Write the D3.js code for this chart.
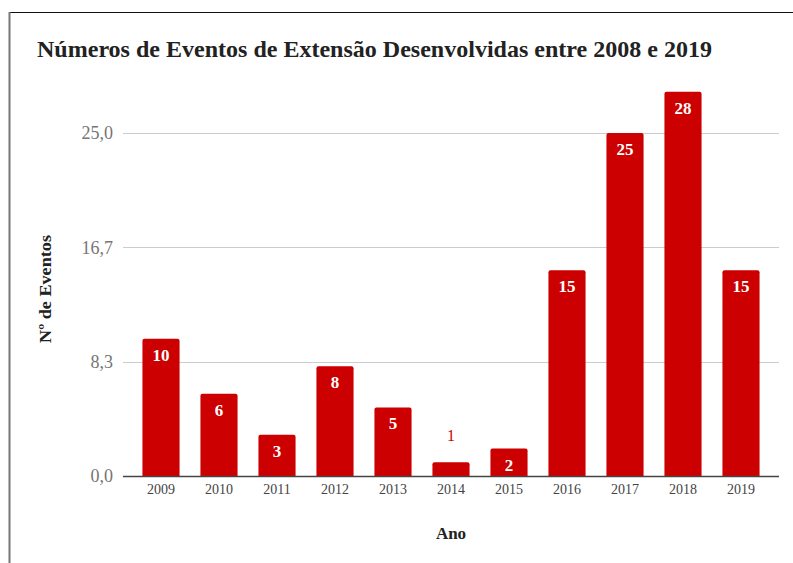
<!DOCTYPE html>
<html>
<head>
<meta charset="utf-8">
<script src="https://cdn.jsdelivr.net/npm/d3@7"></script>
<style>
  body { margin: 0; background: #fff; }
  svg { display: block; font-family: "Liberation Serif", "Times New Roman", serif; }
</style>
</head>
<body>
<svg class="canvas" width="793" height="563"></svg>
<script>
var anos = ["2009","2010","2011","2012","2013","2014","2015","2016","2017","2018","2019"];
var eventos = [10, 6, 3, 8, 5, 1, 2, 15, 25, 28, 15];
var ticksY = [0, 25/3, 50/3, 25];
var titulo = "Números de Eventos de Extensão Desenvolvidas entre 2008 e 2019";

var svg = d3.select(".canvas");
var red = "#cc0000";

// moldura
svg.append("line").attr("x1", 9).attr("x2", 793).attr("y1", 12.5).attr("y2", 12.5)
  .attr("stroke", "#111").attr("stroke-width", 1.2);
svg.append("line").attr("x1", 9.5).attr("x2", 9.5).attr("y1", 12).attr("y2", 563)
  .attr("stroke", "#777").attr("stroke-width", 2);

var x = d3.scaleBand().domain(anos).range([132, 770]).paddingInner(0.36).paddingOuter(0.18);
var y = d3.scaleLinear().domain([0, 25]).range([476, 133]);

svg.append("text").attr("x", 37).attr("y", 57)
  .attr("font-size", 24).attr("font-weight", "bold").attr("fill", "#222")
  .attr("textLength", 675).attr("lengthAdjust", "spacingAndGlyphs")
  .text(titulo);

// grade
svg.selectAll(".grid").data(ticksY.slice(1)).enter().append("line")
  .attr("x1", 123).attr("x2", 779)
  .attr("y1", function(d){ return Math.round(y(d)) + 0.5; })
  .attr("y2", function(d){ return Math.round(y(d)) + 0.5; })
  .attr("stroke", "#cccccc");

var yAxis = svg.append("g").attr("transform", "translate(113,0)")
  .call(d3.axisLeft(y).tickValues(ticksY).tickSize(0).tickPadding(0)
    .tickFormat(function(d){ return d3.format(".1f")(d).replace(".", ","); }));
yAxis.select(".domain").remove();
yAxis.selectAll("text").attr("font-size", 18).attr("fill", "#757575")
  .attr("font-family", "Liberation Serif, serif");

// barras com cantos superiores arredondados
function barPath(d, i){
  var x0 = x(anos[i]), w = x.bandwidth(), y0 = y(d), b = y(0), r = 2;
  return "M" + x0 + "," + b + "V" + (y0 + r) + "Q" + x0 + "," + y0 + " " + (x0 + r) + "," + y0 +
    "H" + (x0 + w - r) + "Q" + (x0 + w) + "," + y0 + " " + (x0 + w) + "," + (y0 + r) + "V" + b + "Z";
}
svg.selectAll(".bar").data(eventos).enter().append("path")
  .attr("d", barPath).attr("fill", red);

svg.append("line").attr("x1", 123).attr("x2", 779).attr("y1", 476.5).attr("y2", 476.5)
  .attr("stroke", "#444").attr("stroke-width", 1.3);

var xAxis = svg.append("g").attr("transform", "translate(0,476)")
  .call(d3.axisBottom(x).tickSize(0).tickPadding(8));
xAxis.select(".domain").remove();
xAxis.selectAll("text").attr("font-size", 14).attr("fill", "#444")
  .attr("font-family", "Liberation Serif, serif");

// rótulos
function fora(d){ return y(0) - y(d) < 20; }
svg.selectAll(".lbl").data(eventos).enter().append("text")
  .attr("x", function(d, i){ return x(anos[i]) + x.bandwidth() / 2; })
  .attr("y", function(d){ return fora(d) ? y(d) - 21 : y(d) + 22; })
  .attr("text-anchor", "middle")
  .attr("font-size", function(d){ return fora(d) ? 16 : 17; })
  .attr("font-weight", function(d){ return fora(d) ? "normal" : "bold"; })
  .attr("fill", function(d){ return fora(d) ? red : "#fff"; })
  .text(function(d){ return d; });

svg.append("text").attr("transform", "translate(51,289) rotate(-90)")
  .attr("text-anchor", "middle").attr("font-size", 17).attr("font-weight", "bold").attr("fill", "#222")
  .attr("textLength", 108).attr("lengthAdjust", "spacingAndGlyphs")
  .text("Nº de Eventos");

svg.append("text").attr("x", 451).attr("y", 539).attr("text-anchor", "middle")
  .attr("font-size", 17).attr("font-weight", "bold").attr("fill", "#222")
  .text("Ano");
</script>
</body>
</html>
